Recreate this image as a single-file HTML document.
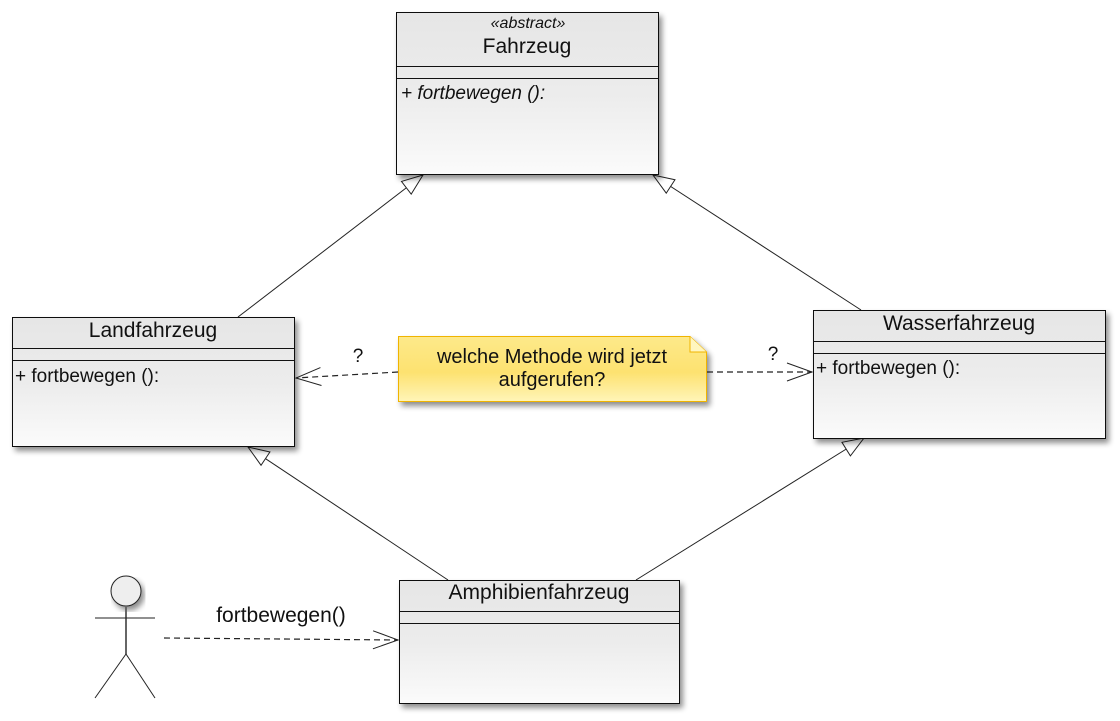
<!DOCTYPE html>
<html><head><meta charset="utf-8"><style>
html,body{margin:0;padding:0;background:#fff;}
svg text{font-family:"Liberation Sans","DejaVu Sans",sans-serif;fill:#111;}
</style></head><body>
<svg width="1120" height="716" viewBox="0 0 1120 716" xmlns="http://www.w3.org/2000/svg">
<defs>
<linearGradient id="g" x1="0" y1="0" x2="0" y2="1">
<stop offset="0" stop-color="#e6e6e6"/><stop offset="0.5" stop-color="#ececec"/><stop offset="1" stop-color="#fbfbfb"/>
</linearGradient>
<linearGradient id="ny" x1="0" y1="0" x2="0" y2="1">
<stop offset="0" stop-color="#fde98a"/><stop offset="0.55" stop-color="#fde270"/><stop offset="1" stop-color="#fff5b8"/>
</linearGradient>
<filter id="sh" x="-10%" y="-10%" width="125%" height="130%">
<feGaussianBlur in="SourceAlpha" stdDeviation="3"/><feOffset dx="3" dy="4"/>
<feComponentTransfer><feFuncA type="linear" slope="0.45"/></feComponentTransfer>
<feMerge><feMergeNode/><feMergeNode in="SourceGraphic"/></feMerge>
</filter>
<marker id="tri" markerWidth="24" markerHeight="20" refX="22" refY="9" orient="auto" markerUnits="userSpaceOnUse">
<path d="M1,1 L22,9 L1,17 Z" fill="#fff" stroke="#222" stroke-width="1"/>
</marker>
<marker id="open" markerWidth="28" markerHeight="24" refX="26" refY="11" orient="auto" markerUnits="userSpaceOnUse">
<path d="M1,2 L26,11 L1,20" fill="none" stroke="#222" stroke-width="1"/>
</marker>
</defs>

<g stroke="#222" stroke-width="1" fill="none">
<line x1="238" y1="317" x2="423" y2="175" marker-end="url(#tri)"/>
<line x1="861" y1="310" x2="653" y2="175" marker-end="url(#tri)"/>
<line x1="448" y1="580" x2="248" y2="447" marker-end="url(#tri)"/>
<line x1="636" y1="580" x2="864" y2="438" marker-end="url(#tri)"/>
</g>

<g filter="url(#sh)">
<rect x="396.5" y="12.5" width="262" height="162" fill="url(#g)" stroke="#111"/>
</g>
<line x1="397" y1="66.5" x2="658" y2="66.5" stroke="#111"/>
<line x1="397" y1="78.5" x2="658" y2="78.5" stroke="#111"/>
<text x="528" y="28" font-size="16" font-style="italic" text-anchor="middle" fill="#333">«abstract»</text>
<text x="527" y="53" font-size="21" text-anchor="middle">Fahrzeug</text>
<text x="401" y="99" font-size="19" font-style="italic">+ fortbewegen ():</text>

<g filter="url(#sh)">
<rect x="12.5" y="317.5" width="282" height="129" fill="url(#g)" stroke="#111"/>
</g>
<line x1="13" y1="348.5" x2="294" y2="348.5" stroke="#111"/>
<line x1="13" y1="360.5" x2="294" y2="360.5" stroke="#111"/>
<text x="153" y="337" font-size="21" text-anchor="middle">Landfahrzeug</text>
<text x="15" y="382" font-size="19">+ fortbewegen ():</text>

<g filter="url(#sh)">
<rect x="813.5" y="310.5" width="292" height="128" fill="url(#g)" stroke="#111"/>
</g>
<line x1="814" y1="341.5" x2="1105" y2="341.5" stroke="#111"/>
<line x1="814" y1="353.5" x2="1105" y2="353.5" stroke="#111"/>
<text x="959" y="330" font-size="21" text-anchor="middle">Wasserfahrzeug</text>
<text x="816" y="374" font-size="19">+ fortbewegen ():</text>

<g filter="url(#sh)">
<rect x="399.5" y="580.5" width="280" height="123" fill="url(#g)" stroke="#111"/>
</g>
<line x1="400" y1="611.5" x2="679" y2="611.5" stroke="#111"/>
<line x1="400" y1="623.5" x2="679" y2="623.5" stroke="#111"/>
<text x="539" y="599" font-size="21" text-anchor="middle">Amphibienfahrzeug</text>

<g filter="url(#sh)">
<path d="M398.5,336.5 L690,336.5 L706.5,352 L706.5,401.5 L398.5,401.5 Z" fill="url(#ny)" stroke="#f0b400"/>
</g>
<path d="M690,336.5 L690,352 L706.5,352" fill="#fff6c0" stroke="#f0b400"/>
<text x="552" y="363" font-size="20" text-anchor="middle">welche Methode wird jetzt</text>
<text x="552" y="386" font-size="20" text-anchor="middle">aufgerufen?</text>

<g stroke="#222" stroke-width="1.2" fill="none" stroke-dasharray="6,4">
<line x1="398" y1="372" x2="296" y2="378" marker-end="url(#open)"/>
<line x1="707" y1="372" x2="812" y2="372" marker-end="url(#open)"/>
<line x1="164" y1="638" x2="398" y2="640" marker-end="url(#open)"/>
</g>
<text x="358" y="362" font-size="19" text-anchor="middle">?</text>
<text x="773" y="360" font-size="19" text-anchor="middle">?</text>
<text x="281" y="622" font-size="21" text-anchor="middle">fortbewegen()</text>

<g stroke="#222" stroke-width="1" fill="none">
<circle cx="126" cy="591" r="15" fill="#eee" filter="url(#sh)"/>
<line x1="126" y1="606" x2="126" y2="654" stroke="#666" stroke-width="2"/>
<line x1="95" y1="618" x2="155" y2="618"/>
<line x1="126" y1="654" x2="95" y2="698"/>
<line x1="126" y1="654" x2="155" y2="698"/>
</g>
</svg>
</body></html>
